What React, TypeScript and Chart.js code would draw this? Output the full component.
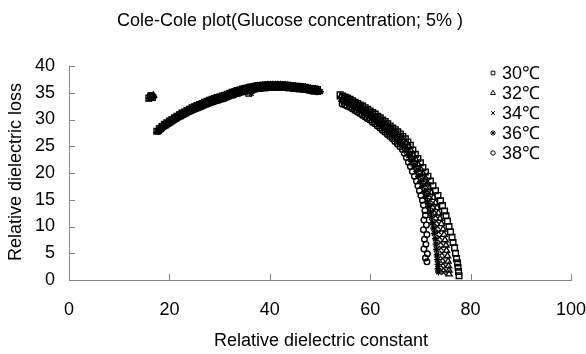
import React, { useEffect, useRef } from 'react';
import { Chart, registerables } from 'chart.js';
import { drawPoint } from 'chart.js/helpers';

Chart.register(...registerables);

const TITLE = 'Cole-Cole plot(Glucose concentration; 5% )';
const X_TITLE = 'Relative dielectric constant';
const Y_TITLE = 'Relative dielectric loss';
const SERIES_LABELS = ['30℃', '32℃', '34℃', '36℃', '38℃'];
const POINT_STYLES = ['rect', 'triangle', 'crossRot', 'star', 'circle'];
const X_MIN = 0, X_MAX = 100, X_STEP = 20;
const Y_MIN = 0, Y_MAX = 40, Y_STEP = 5;

// [relative dielectric constant, relative dielectric loss]
const S30 = [
  [15.9, 34.0], [16.3, 34.4], [16.6, 34.1], [35.8, 34.9],
  [17.5, 27.8], [18, 28.3], [18.5, 28.7], [19, 29.1], [19.5, 29.4], [20, 29.7], [20.5, 30.0], [21, 30.3], [21.5, 30.6],
  [22, 30.9], [22.5, 31.2], [23, 31.4], [23.5, 31.7], [24, 31.9], [24.5, 32.2], [25, 32.4], [25.5, 32.6], [26, 32.8],
  [26.5, 33.0], [27, 33.2], [27.5, 33.4], [28, 33.6], [28.5, 33.8], [29, 33.9], [29.5, 34.1], [30, 34.2], [30.5, 34.4],
  [31, 34.5], [31.5, 34.7], [32, 34.9], [32.5, 35.1], [33, 35.2], [33.5, 35.4], [34, 35.5], [34.5, 35.7], [35, 35.8],
  [35.5, 35.9], [36, 36.0], [36.5, 36.1], [37, 36.2], [37.5, 36.3], [38, 36.3], [38.5, 36.4], [39, 36.4], [39.5, 36.5],
  [40, 36.5], [40.5, 36.5], [41, 36.5], [41.5, 36.5], [42, 36.5], [42.5, 36.5], [43, 36.4], [43.5, 36.4], [44, 36.3],
  [44.5, 36.3], [45, 36.2], [45.5, 36.2], [46, 36.1], [46.5, 36.1], [47, 36.0], [47.5, 35.9], [48, 35.8], [48.5, 35.8],
  [49, 35.7], [49.5, 35.6],
  [54.0, 34.6], [54.5, 34.4], [55.0, 34.2], [55.5, 34.0], [56.0, 33.8], [56.5, 33.5], [57.0, 33.2], [57.5, 33.0],
  [58.0, 32.7], [58.5, 32.5], [59.0, 32.2], [59.5, 31.9], [60.0, 31.6], [60.5, 31.3], [61.0, 31.0], [61.5, 30.6],
  [62.0, 30.3], [62.5, 29.9], [63.0, 29.6], [63.5, 29.2], [64.0, 28.8], [64.5, 28.4], [65.0, 28.1], [65.5, 27.7],
  [66.0, 27.3], [66.5, 26.8], [67.0, 26.4], [67.5, 25.8], [68.0, 25.2],
  [68.5, 24.3], [69.0, 23.5], [69.5, 22.7], [70.0, 21.9], [70.5, 21.0], [71.0, 20.2], [71.5, 19.4], [72.0, 18.5],
  [72.5, 17.6], [73.0, 16.7], [73.5, 15.8], [74.0, 14.8], [74.4, 13.9], [74.8, 12.9], [75.1, 12.0], [75.4, 11.0],
  [75.7, 10.0], [76.0, 9.0], [76.3, 8.0], [76.5, 7.0], [76.8, 6.0], [77.0, 5.0], [77.2, 4.0], [77.4, 3.2], [77.5, 2.4],
  [77.6, 1.6], [77.7, 0.8],
];
const S32 = [
  [16.1, 34.2], [16.8, 34.5],
  [17.6, 27.8], [18.1, 28.3], [18.6, 28.7], [19.1, 29.1], [19.6, 29.4], [20.1, 29.7], [20.6, 30.0], [21.1, 30.3],
  [21.6, 30.6], [22.1, 30.9], [22.6, 31.1], [23.1, 31.4], [23.6, 31.6], [24.1, 31.9], [24.6, 32.1], [25.1, 32.3],
  [25.6, 32.5], [26.1, 32.7], [26.6, 32.9], [27.1, 33.1], [27.6, 33.3], [28.1, 33.5], [28.6, 33.7], [29.1, 33.8],
  [29.6, 34.0], [30.1, 34.1], [30.6, 34.3], [31.1, 34.4], [31.6, 34.6], [32.1, 34.8], [32.6, 35.0], [33.1, 35.1],
  [33.6, 35.3], [34.1, 35.4], [34.6, 35.6], [35.1, 35.7], [35.6, 35.8], [36.1, 35.9], [36.6, 36.0], [37.1, 36.1],
  [37.6, 36.2], [38.1, 36.2], [38.6, 36.3], [39.1, 36.3], [39.6, 36.4], [40.1, 36.4], [40.6, 36.4], [41.1, 36.4],
  [41.6, 36.4], [42.1, 36.4], [42.6, 36.3], [43.1, 36.3], [43.6, 36.3], [44.1, 36.2], [44.6, 36.1], [45.1, 36.1],
  [45.6, 36.0], [46.1, 36.0], [46.6, 35.9], [47.1, 35.9], [47.6, 35.8], [48.1, 35.7], [48.6, 35.6], [49.1, 35.6], [49.6, 35.5],
  [54.1, 34.2], [54.6, 34.0], [55.1, 33.8], [55.6, 33.6], [56.1, 33.4], [56.6, 33.1], [57.1, 32.8], [57.6, 32.6],
  [58.1, 32.3], [58.6, 32.0], [59.1, 31.8], [59.6, 31.5], [60.1, 31.1], [60.6, 30.8], [61.1, 30.5], [61.6, 30.1],
  [62.1, 29.8], [62.6, 29.4], [63.1, 29.1], [63.6, 28.7], [64.1, 28.3], [64.6, 27.9], [65.1, 27.5], [65.6, 27.1],
  [66.1, 26.7], [66.6, 26.2], [67.1, 25.7], [67.6, 25.1],
  [68.0, 24.3], [68.5, 23.5], [69.0, 22.6], [69.5, 21.7], [70.0, 20.8], [70.5, 19.9], [71.0, 19.0], [71.4, 18.1],
  [71.8, 17.2], [72.2, 16.3], [72.6, 15.4], [73.0, 14.4], [73.3, 13.5], [73.6, 12.5], [73.9, 11.5], [74.2, 10.5],
  [74.5, 9.5], [74.7, 8.5], [74.9, 7.5], [75.1, 6.5], [75.2, 5.5], [75.4, 4.5], [75.5, 3.5], [75.6, 2.6], [75.7, 1.8], [75.7, 1.1],
];
const S34 = [
  [16.0, 33.8], [16.5, 34.3], [35.9, 35.1],
  [17.7, 27.8], [18.2, 28.3], [18.7, 28.7], [19.2, 29.0], [19.7, 29.3], [20.2, 29.6], [20.7, 29.9], [21.2, 30.2],
  [21.7, 30.5], [22.2, 30.8], [22.7, 31.1], [23.2, 31.3], [23.7, 31.6], [24.2, 31.8], [24.7, 32.1], [25.2, 32.3],
  [25.7, 32.5], [26.2, 32.7], [26.7, 32.9], [27.2, 33.1], [27.7, 33.3], [28.2, 33.5], [28.7, 33.6], [29.2, 33.8],
  [29.7, 33.9], [30.2, 34.1], [30.7, 34.2], [31.2, 34.4], [31.7, 34.6], [32.2, 34.8], [32.7, 34.9], [33.2, 35.1],
  [33.7, 35.2], [34.2, 35.4], [34.7, 35.5], [35.2, 35.6], [35.7, 35.7], [36.2, 35.8], [36.7, 35.9], [37.2, 36.0],
  [37.7, 36.1], [38.2, 36.1], [38.7, 36.2], [39.2, 36.2], [39.7, 36.3], [40.2, 36.3], [40.7, 36.3], [41.2, 36.3],
  [41.7, 36.3], [42.2, 36.3], [42.7, 36.2], [43.2, 36.2], [43.7, 36.1], [44.2, 36.1], [44.7, 36.0], [45.2, 36.0],
  [45.7, 35.9], [46.2, 35.9], [46.7, 35.8], [47.2, 35.8], [47.7, 35.7], [48.2, 35.6], [48.7, 35.5], [49.2, 35.5], [49.7, 35.4],
  [54.2, 33.8], [54.7, 33.6], [55.2, 33.4], [55.7, 33.2], [56.2, 32.9], [56.7, 32.7], [57.2, 32.4], [57.7, 32.1],
  [58.2, 31.9], [58.7, 31.6], [59.2, 31.3], [59.7, 31.0], [60.2, 30.7], [60.7, 30.4], [61.2, 30.0], [61.7, 29.7],
  [62.2, 29.3], [62.7, 28.9], [63.2, 28.5], [63.7, 28.1], [64.2, 27.7], [64.7, 27.3], [65.2, 26.9], [65.7, 26.5],
  [66.2, 26.0], [66.7, 25.5], [67.2, 25.0],
  [67.6, 24.2], [68.1, 23.3], [68.6, 22.4], [69.1, 21.5], [69.6, 20.6], [70.1, 19.6], [70.5, 18.7], [70.9, 17.8],
  [71.3, 16.8], [71.7, 15.9], [72.0, 14.9], [72.4, 14.0], [72.7, 13.0], [73.0, 12.0], [73.2, 11.0], [73.4, 10.0],
  [73.6, 9.0], [73.8, 8.0], [74.0, 7.0], [74.1, 6.0], [74.3, 5.0], [74.4, 4.0], [74.5, 3.1], [74.6, 2.2], [74.6, 1.4],
];
const S36 = [
  [16.3, 34.0], [16.9, 34.3], [36.3, 34.9],
  [17.8, 27.8], [18.3, 28.2], [18.8, 28.6], [19.3, 28.9], [19.8, 29.2], [20.3, 29.5], [20.8, 29.8], [21.3, 30.1],
  [21.8, 30.4], [22.3, 30.7], [22.8, 30.9], [23.3, 31.2], [23.8, 31.4], [24.3, 31.7], [24.8, 31.9], [25.3, 32.1],
  [25.8, 32.3], [26.3, 32.5], [26.8, 32.7], [27.3, 32.9], [27.8, 33.1], [28.3, 33.3], [28.8, 33.5], [29.3, 33.6],
  [29.8, 33.8], [30.3, 33.9], [30.8, 34.1], [31.3, 34.3], [31.8, 34.5], [32.3, 34.6], [32.8, 34.8], [33.3, 34.9],
  [33.8, 35.1], [34.3, 35.2], [34.8, 35.4], [35.3, 35.5], [35.8, 35.6], [36.3, 35.7], [36.8, 35.8], [37.3, 35.9],
  [37.8, 36.0], [38.3, 36.0], [38.8, 36.1], [39.3, 36.1], [39.8, 36.2], [40.3, 36.2], [40.8, 36.2], [41.3, 36.2],
  [41.8, 36.2], [42.3, 36.2], [42.8, 36.1], [43.3, 36.1], [43.8, 36.0], [44.3, 36.0], [44.8, 35.9], [45.3, 35.9],
  [45.8, 35.8], [46.3, 35.8], [46.8, 35.7], [47.3, 35.6], [47.8, 35.5], [48.3, 35.5], [48.8, 35.4], [49.3, 35.3],
  [49.8, 35.2], [50.1, 35.2],
  [54.3, 33.4], [54.8, 33.2], [55.3, 33.0], [55.8, 32.7], [56.3, 32.5], [56.8, 32.2], [57.3, 31.9], [57.8, 31.7],
  [58.3, 31.4], [58.8, 31.1], [59.3, 30.8], [59.8, 30.5], [60.3, 30.2], [60.8, 29.8], [61.3, 29.5], [61.8, 29.1],
  [62.3, 28.7], [62.8, 28.3], [63.3, 27.9], [63.8, 27.5], [64.3, 27.1], [64.8, 26.7], [65.3, 26.2], [65.8, 25.8],
  [66.3, 25.3], [66.8, 24.8],
  [67.2, 24.1], [67.7, 23.2], [68.2, 22.2], [68.7, 21.3], [69.2, 20.3], [69.6, 19.4], [70.0, 18.4], [70.4, 17.5],
  [70.8, 16.5], [71.1, 15.6], [71.4, 14.6], [71.7, 13.7], [72.0, 12.7], [72.2, 11.7], [72.4, 10.7], [72.6, 9.7],
  [72.8, 8.7], [73.0, 7.7], [73.1, 6.7], [73.2, 5.7], [73.3, 4.7], [73.4, 3.8], [73.5, 2.9], [73.5, 2.1], [73.6, 1.5],
];
const S38 = [
  [16.2, 34.5],
  [17.9, 27.8], [18.4, 28.2], [18.9, 28.6], [19.4, 28.9], [19.9, 29.2], [20.4, 29.5], [20.9, 29.8], [21.4, 30.1],
  [21.9, 30.4], [22.4, 30.6], [22.9, 30.9], [23.4, 31.1], [23.9, 31.4], [24.4, 31.6], [24.9, 31.8], [25.4, 32.0],
  [25.9, 32.2], [26.4, 32.4], [26.9, 32.6], [27.4, 32.8], [27.9, 33.0], [28.4, 33.2], [28.9, 33.3], [29.4, 33.5],
  [29.9, 33.6], [30.4, 33.8], [30.9, 33.9], [31.4, 34.1], [31.9, 34.3], [32.4, 34.5], [32.9, 34.6], [33.4, 34.8],
  [33.9, 34.9], [34.4, 35.1], [34.9, 35.2], [35.4, 35.3], [35.9, 35.4], [36.4, 35.5], [36.9, 35.6], [37.4, 35.7],
  [37.9, 35.8], [38.4, 35.8], [38.9, 35.9], [39.4, 35.9], [39.9, 36.0], [40.4, 36.0], [40.9, 36.0], [41.4, 36.0],
  [41.9, 36.0], [42.4, 36.0], [42.9, 36.0], [43.4, 35.9], [43.9, 35.9], [44.4, 35.8], [44.9, 35.8], [45.4, 35.7],
  [45.9, 35.7], [46.4, 35.6], [46.9, 35.6], [47.4, 35.5], [47.9, 35.4], [48.4, 35.3], [48.9, 35.3], [49.4, 35.2],
  [54.4, 32.9], [54.9, 32.7], [55.4, 32.5], [55.9, 32.3], [56.4, 32.0], [56.9, 31.7], [57.4, 31.4], [57.9, 31.1],
  [58.4, 30.8], [58.9, 30.5], [59.4, 30.2], [59.9, 29.9], [60.4, 29.5], [60.9, 29.2], [61.4, 28.8], [61.9, 28.4],
  [62.4, 28.0], [62.9, 27.6], [63.4, 27.2], [63.9, 26.8], [64.4, 26.4], [64.9, 25.9], [65.4, 25.4], [65.9, 24.9], [66.4, 24.4],
  [66.8, 23.7], [67.2, 22.9], [67.6, 22.0], [68.0, 21.2], [68.4, 20.3], [68.8, 19.4], [69.2, 18.5], [69.5, 17.6],
  [69.8, 16.7], [70.1, 15.8], [70.4, 14.9], [70.6, 14.0], [70.9, 13.0], [71.0, 12.1], [70.7, 11.2], [71.2, 10.3],
  [70.6, 9.4], [71.3, 8.5], [70.8, 7.6], [71.1, 6.7], [70.7, 5.8], [71.4, 4.9], [71.0, 4.1], [71.3, 3.4],
];
const SERIES = [S30, S32, S34, S36, S38];

const FONT = '"Liberation Sans", Arial, sans-serif';
const AXIS_COLOR = '#878787';
const TICK_LEN = 6;
const POINT_RADIUS = [4.0, 3.6, 3.2, 3.4, 2.8];
const LEGEND_RADIUS = [2.6, 2.8, 2.6, 2.8, 2.2];

const decorPlugin = {
  id: 'decor',
  afterDraw(chart: any) {
    const { ctx, chartArea, scales } = chart;
    const xs = scales.x;
    const ys = scales.y;
    ctx.save();
    ctx.strokeStyle = AXIS_COLOR;
    ctx.lineWidth = 1;
    ctx.beginPath();
    xs.ticks.forEach((t: any) => {
      const px = Math.round(xs.getPixelForValue(t.value)) + 0.5;
      ctx.moveTo(px, chartArea.bottom);
      ctx.lineTo(px, chartArea.bottom - TICK_LEN);
    });
    ys.ticks.forEach((t: any) => {
      const py = Math.round(ys.getPixelForValue(t.value)) + 0.5;
      ctx.moveTo(chartArea.left, py);
      ctx.lineTo(chartArea.left + TICK_LEN, py);
    });
    ctx.stroke();

    ctx.fillStyle = '#000';
    ctx.font = `18px ${FONT}`;
    ctx.textAlign = 'center';
    ctx.textBaseline = 'middle';
    ctx.fillText(TITLE, 290, 21);
    ctx.fillText(X_TITLE, 321, 341);
    ctx.save();
    ctx.translate(16, 172);
    ctx.rotate(-Math.PI / 2);
    ctx.fillText(Y_TITLE, 0, 0);
    ctx.restore();

    ctx.textAlign = 'left';
    chart.data.datasets.forEach((ds: any, i: number) => {
      const y = 73 + i * 20;
      ctx.strokeStyle = '#000';
      ctx.fillStyle = 'rgba(0,0,0,0)';
      ctx.lineWidth = 1;
      drawPoint(ctx, { pointStyle: ds.pointStyle, radius: LEGEND_RADIUS[i], borderWidth: 1, rotation: 0 }, 493, y);
      ctx.fillStyle = '#000';
      ctx.font = `18px ${FONT}`;
      ctx.fillText(ds.label, 502, y + 1);
    });
    ctx.restore();
  },
};

export default function App() {
  const ref = useRef<HTMLCanvasElement>(null);
  useEffect(() => {
    const chart = new Chart(ref.current as HTMLCanvasElement, {
      type: 'scatter',
      data: {
        datasets: SERIES.map((s, i) => ({
          label: SERIES_LABELS[i],
          data: s.map(([x, y]) => ({ x, y })),
          pointStyle: POINT_STYLES[i] as any,
          pointRadius: POINT_RADIUS[i],
          pointBorderWidth: 1.4,
          borderColor: '#000',
          backgroundColor: 'rgba(0,0,0,0)',
          showLine: false,
        })),
      },
      options: {
        responsive: false,
        animation: false,
        devicePixelRatio: 1,
        events: [],
        layout: { padding: { top: 66, right: 15, bottom: 0, left: 0 } },
        plugins: { legend: { display: false }, title: { display: false }, tooltip: { enabled: false } },
        scales: {
          x: {
            type: 'linear',
            min: X_MIN,
            max: X_MAX,
            ticks: { stepSize: X_STEP, padding: 19, color: '#000', font: { family: FONT, size: 18 }, maxRotation: 0 },
            grid: { display: false, drawTicks: false },
            border: { display: true, color: AXIS_COLOR, width: 1 },
            afterFit: (s: any) => { s.height = 74; s.paddingLeft = 0; s.paddingRight = 0; },
          },
          y: {
            type: 'linear',
            min: Y_MIN,
            max: Y_MAX,
            ticks: { stepSize: Y_STEP, padding: 14, color: '#000', font: { family: FONT, size: 18 } },
            grid: { display: false, drawTicks: false },
            border: { display: true, color: AXIS_COLOR, width: 1 },
            afterFit: (s: any) => { s.width = 69; s.paddingTop = 0; s.paddingBottom = 0; },
          },
        },
      },
      plugins: [decorPlugin],
    });
    return () => chart.destroy();
  }, []);
  return (
    <div style={{ position: 'absolute', left: 0, top: 0, width: 586, height: 354, background: '#fff' }}>
      <canvas ref={ref} width={586} height={354} style={{ display: 'block' }} />
    </div>
  );
}
